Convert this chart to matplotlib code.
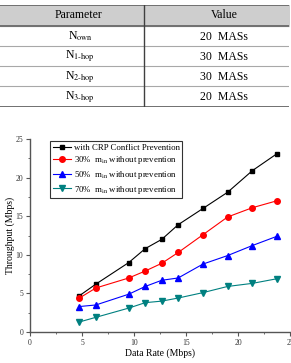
import matplotlib as mpl
mpl.use('Agg')
import matplotlib.pyplot as plt
from matplotlib.ticker import MultipleLocator

plt.rcParams['font.family'] = ['Liberation Serif', 'DejaVu Serif']
plt.rcParams['mathtext.fontset'] = 'stix'

# table contents
params = ['N$_{\\rm own}$', 'N$_{\\text{1-hop}}$', 'N$_{\\text{2-hop}}$', 'N$_{\\text{3-hop}}$']
values = ['20  MASs', '30  MASs', '30  MASs', '20  MASs']

# chart data
rate = [4.75, 6.33, 9.5, 11.08, 12.67, 14.25, 16.63, 19.0, 21.38, 23.75]
crp = [4.7, 6.2, 9.0, 10.8, 12.0, 13.9, 16.0, 18.1, 20.9, 23.1]
m30 = [4.4, 5.7, 7.0, 7.9, 8.9, 10.3, 12.6, 14.9, 16.1, 17.0]
m50 = [3.3, 3.5, 4.9, 5.9, 6.7, 7.0, 8.8, 9.9, 11.2, 12.4]
m70 = [1.3, 1.9, 3.1, 3.8, 4.0, 4.4, 5.1, 5.9, 6.3, 6.9]

labels = ['with CRP Conflict Prevention',
          '30%  m$_{\\rm in}$ without prevention',
          '50%  m$_{\\rm in}$ without prevention',
          '70%  m$_{\\rm in}$ without prevention']

fig = plt.figure(figsize=(2.91, 3.63), dpi=100)

# ---- table ----
W, H = 291.0, 363.0
tb = fig.add_axes([0, (H - 107) / H, 289 / W, 102 / H])
tb.set_xlim(0, 289)
tb.set_ylim(107, 5)
tb.axis('off')
tb.fill_between([0, 289], 5, 26, color='#cecece', zorder=0)
for y in [46, 66, 86]:
    tb.plot([0, 289], [y, y], color='#a8a8a8', lw=0.8)
for y in [5, 26, 107]:
    tb.plot([0, 289], [y, y], color='#707070', lw=1.4)
tb.plot([144, 144], [5, 107], color='#404040', lw=1.0)
tb.text(78, 15.5, 'Parameter', ha='center', va='center', fontsize=8.5)
tb.text(224, 15.5, 'Value', ha='center', va='center', fontsize=8.5)
for i in range(len(params)):
    yc = 26 + 20.25 * i + 10.5
    tb.text(80, yc, params[i], ha='center', va='center', fontsize=8.5)
    tb.text(224, yc, values[i], ha='center', va='center', fontsize=8.5)

# ---- chart ----
ax = fig.add_axes([30 / W, (H - 332) / H, 260 / W, 193 / H])
ax.plot(rate, crp, '-s', color='black', lw=0.8, ms=3.5, label=labels[0])
ax.plot(rate, m30, '-o', color='red', lw=0.8, ms=4, label=labels[1])
ax.plot(rate, m50, '-^', color='blue', lw=0.8, ms=4, label=labels[2])
ax.plot(rate, m70, '-v', color='#008080', lw=0.8, ms=4, label=labels[3])

ax.set_xlim(0, 25)
ax.set_ylim(0, 25)
ax.xaxis.set_major_locator(MultipleLocator(5))
ax.xaxis.set_minor_locator(MultipleLocator(2.5))
ax.yaxis.set_major_locator(MultipleLocator(5))
ax.yaxis.set_minor_locator(MultipleLocator(2.5))
ax.spines['top'].set_visible(False)
ax.spines['right'].set_visible(False)
for s in ['left', 'bottom']:
    ax.spines[s].set_color('#555555')
    ax.spines[s].set_linewidth(1.0)
ax.tick_params(which='major', direction='out', length=3, width=0.8,
               labelsize=5.5, colors='#555555', labelcolor='#333333', pad=2)
ax.tick_params(which='minor', direction='out', length=1.5, width=0.6,
               colors='#555555')
ax.set_xlabel('Data Rate (Mbps)', fontsize=7, labelpad=1)
ax.set_ylabel('Throughput (Mbps)', fontsize=7, labelpad=0)

leg = ax.legend(loc='upper left', bbox_to_anchor=(0.077, 0.99), fontsize=6.3,
                frameon=True, fancybox=False, edgecolor='black',
                borderpad=0.3, labelspacing=0.3, handlelength=2.1,
                handletextpad=0.3, borderaxespad=0)
leg.get_frame().set_linewidth(0.8)

fig.savefig('out.png', dpi=100)
